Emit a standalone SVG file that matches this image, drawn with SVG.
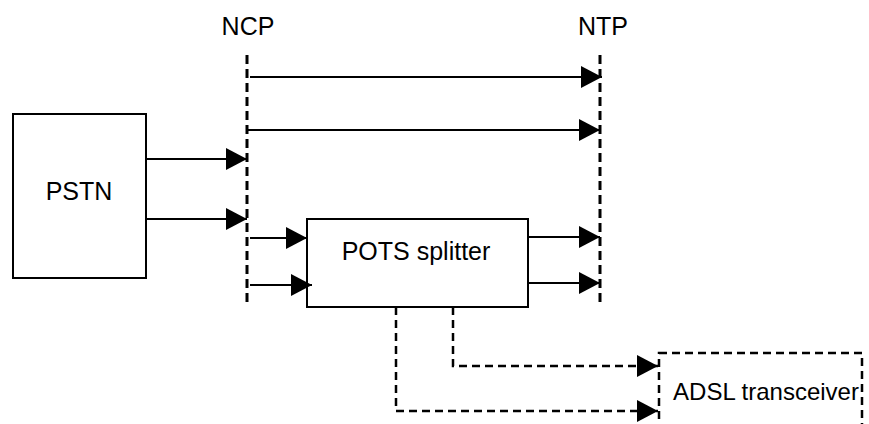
<svg xmlns="http://www.w3.org/2000/svg" width="869" height="424" viewBox="0 0 869 424">
<style>
text{font-family:"Liberation Sans",Arial,sans-serif;font-size:25px;fill:#000;text-anchor:middle}
.box{fill:#fff;stroke:#000;stroke-width:2}
.dbox{fill:#fff;stroke:#000;stroke-width:2.5;stroke-dasharray:8,5}
.ref{fill:none;stroke:#000;stroke-width:3;stroke-dasharray:9,5}
.ln{fill:none;stroke:#000;stroke-width:2;marker-end:url(#ah)}
.dl{fill:none;stroke:#000;stroke-width:2.5;stroke-dasharray:8,5;marker-end:url(#ah)}
</style>
<defs>
<marker id="ah" markerUnits="userSpaceOnUse" markerWidth="21" markerHeight="22" refX="21" refY="11" orient="auto">
<path d="M0,0 L21,11 L0,22 Z" fill="#000"/>
</marker>
</defs>
<rect width="869" height="424" fill="#fff"/>
<g id="ncp">
<line class="ref" x1="247" y1="55" x2="247" y2="307"/>
<text x="248" y="35">NCP</text>
</g>
<g id="ntp">
<line class="ref" x1="600" y1="55" x2="600" y2="307"/>
<text x="603" y="35">NTP</text>
</g>
<g id="pstn">
<rect class="box" x="13" y="114" width="133" height="164"/>
<text x="79" y="200">PSTN</text>
</g>
<g id="splitter">
<rect class="box" x="307" y="219" width="221" height="88"/>
<text x="416" y="260">POTS splitter</text>
</g>
<g id="adsl">
<rect class="dbox" x="659" y="353" width="203" height="90"/>
<text x="766" y="400" style="font-size:24px">ADSL transceiver</text>
</g>
<g id="connectors">
<path class="ln" d="M250,77 H602"/>
<path class="ln" d="M248,130 H600"/>
<path class="ln" d="M146,159 H247"/>
<path class="ln" d="M146,219 H247"/>
<path class="ln" d="M250,238 H307"/>
<path class="ln" d="M250,285 H312"/>
<path class="ln" d="M528,237 H600"/>
<path class="ln" d="M528,283 H600"/>
<path class="dl" d="M453,307 V366 H658"/>
<path class="dl" d="M396,307 V411 H658"/>
</g>
</svg>
